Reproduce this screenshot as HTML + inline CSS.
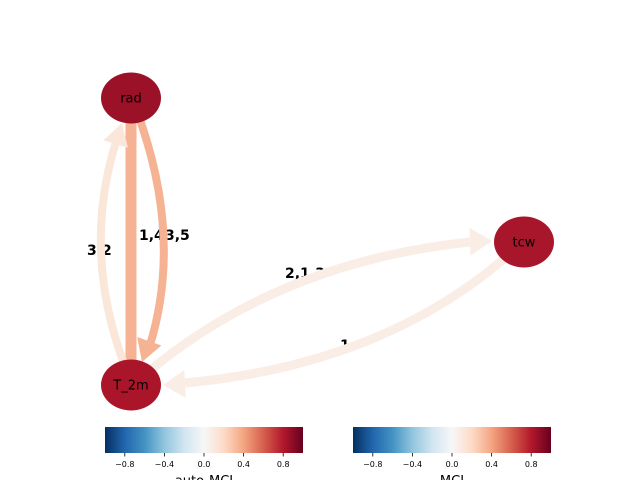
<!DOCTYPE html>
<html><head><meta charset="utf-8"><style>
html,body{margin:0;padding:0;background:#fff;}
svg{display:block;font-family:"DejaVu Sans","Liberation Sans",sans-serif;}
.lbl{font-size:14px;font-weight:bold;fill:#000;stroke:#fff;stroke-width:0.6px;paint-order:stroke;}
</style></head><body>
<svg id="chart" width="640" height="480" viewBox="0 0 640 480">
<defs>
<linearGradient id="rdbu" x1="0" x2="1" y1="0" y2="0">
<stop offset="0" stop-color="#053061"/><stop offset="0.1" stop-color="#2166ac"/>
<stop offset="0.2" stop-color="#4393c3"/><stop offset="0.3" stop-color="#92c5de"/>
<stop offset="0.4" stop-color="#d1e5f0"/><stop offset="0.5" stop-color="#f7f7f7"/>
<stop offset="0.6" stop-color="#fddbc7"/><stop offset="0.7" stop-color="#f4a582"/>
<stop offset="0.8" stop-color="#d6604d"/><stop offset="0.9" stop-color="#b2182b"/>
<stop offset="1" stop-color="#67001f"/>
</linearGradient>
</defs>
<g id="labels"></g>
<g id="edges"></g>
<g id="nodes"></g>
<g id="cbars"></g>
</svg>
<script>
const nodeNames = ["rad", "tcw", "T_2m"];
const nodeX = [131, 524, 131];
const nodeY = [98, 242, 385];
const nodeColors = ["#9b1128", "#a8162b", "#ab1529"];
const edgeLabels = ["1,4", "3,5", "3,2", "2,1,3", "1"];
const edgeValues = [0.35, 0.35, 0.12, 0.07, 0.07];
const cbarTicks = [-0.8, -0.4, 0.0, 0.4, 0.8];
const cbarTitles = ["auto-MCI", "MCI"];

const NS = "http://www.w3.org/2000/svg";
function mk(tag, attrs, parent){const e=document.createElementNS(NS,tag);for(const k in attrs)e.setAttribute(k,attrs[k]);parent.appendChild(e);return e;}
function edgeColor(v){ // approximate RdBu on positive side
  const t=Math.max(0,Math.min(1,v));
  const stops=[[247,247,247],[253,219,199],[244,165,130],[214,96,77]];
  const p=t/0.6*3; const i=Math.min(2,Math.floor(p)); const f=Math.min(1,p-i);
  const c=stops[i].map((a,j)=>Math.round(a+(stops[i+1][j]-a)*f));
  return `rgb(${c[0]},${c[1]},${c[2]})`;
}
const labels=document.getElementById('labels');
const edges=document.getElementById('edges');
const nodes=document.getElementById('nodes');
const cbars=document.getElementById('cbars');

// label positions
const lp=[[139,240],[165,240],[87,255],[285,278],[340,350]];
edgeLabels.forEach((l,i)=>{
  const t=mk('text',{x:lp[i][0],y:lp[i][1],class:'lbl'},labels);
  
  
  t.textContent=l;
});

function arrow(path, tip, dir, color, w, name){
  const g=mk('g',{},edges);
  
  
  mk('path',{d:path,fill:'none',stroke:color,'stroke-width':w},g);
  if(tip){
    const [tx,ty]=tip,[dx,dy]=dir; const L=Math.hypot(dx,dy),ux=dx/L,uy=dy/L;
    const hl=22,hw=w*1.1+4, bx=tx-ux*hl, by=ty-uy*hl;
    mk('polygon',{points:`${tx},${ty} ${bx-uy*hw},${by+ux*hw} ${bx+uy*hw},${by-ux*hw}`,fill:color},g);
  }
}
// contemporaneous rad-T_2m
arrow(`M131,122 L131,362`,null,null,edgeColor(edgeValues[0]),11,'edge-rad-T2m-contemp');
// rad -> T_2m curved right
arrow(`M140,120 Q182,240 150,345`,[142,362],[-0.35,1],edgeColor(edgeValues[1]),8,'edge-rad-to-T2m');
// T_2m -> rad curved left
arrow(`M124,364 Q82,250 116,142`,[122,123],[0.3,-1],edgeColor(edgeValues[2]),8,'edge-T2m-to-rad');
// T_2m -> tcw
arrow(`M148,372 Q280,262 470,242`,[492,241],[1,-0.03],edgeColor(edgeValues[3]),9,'edge-T2m-to-tcw');
// tcw -> T_2m
arrow(`M505,258 Q380,365 185,383`,[163,385],[-1,0.05],edgeColor(edgeValues[4]),9,'edge-tcw-to-T2m');

nodeNames.forEach((n,i)=>{
  const g=mk('g',{},nodes);
  
  
  mk('ellipse',{cx:nodeX[i],cy:nodeY[i],rx:30,ry:25.5,fill:nodeColors[i]},g);
  const t=mk('text',{x:nodeX[i],y:nodeY[i]+4.5,'text-anchor':'middle','font-size':13,fill:'#000'},g);
  t.textContent=n;
});

const cbX=[105,353], cbY=427, cbW=198, cbH=26;
cbarTitles.forEach((title,k)=>{
  const g=mk('g',{},cbars);
  
  
  mk('rect',{x:cbX[k],y:cbY,width:cbW,height:cbH,fill:'url(#rdbu)'},g);
  cbarTicks.forEach(v=>{
    const x=cbX[k]+(v+1)/2*cbW;
    mk('line',{x1:x,x2:x,y1:cbY+cbH,y2:cbY+cbH+3.5,stroke:'#000','stroke-width':0.8},g);
    const t=mk('text',{x:x,y:cbY+cbH+14,'text-anchor':'middle','font-size':8,fill:'#000'},g);
    t.textContent=(v<0?'\u2212':'')+Math.abs(v).toFixed(1);
  });
  const t=mk('text',{x:cbX[k]+cbW/2,y:cbY+cbH+32,'text-anchor':'middle','font-size':13,fill:'#000'},g);
  t.textContent=title;
});
</script>
</body></html>
